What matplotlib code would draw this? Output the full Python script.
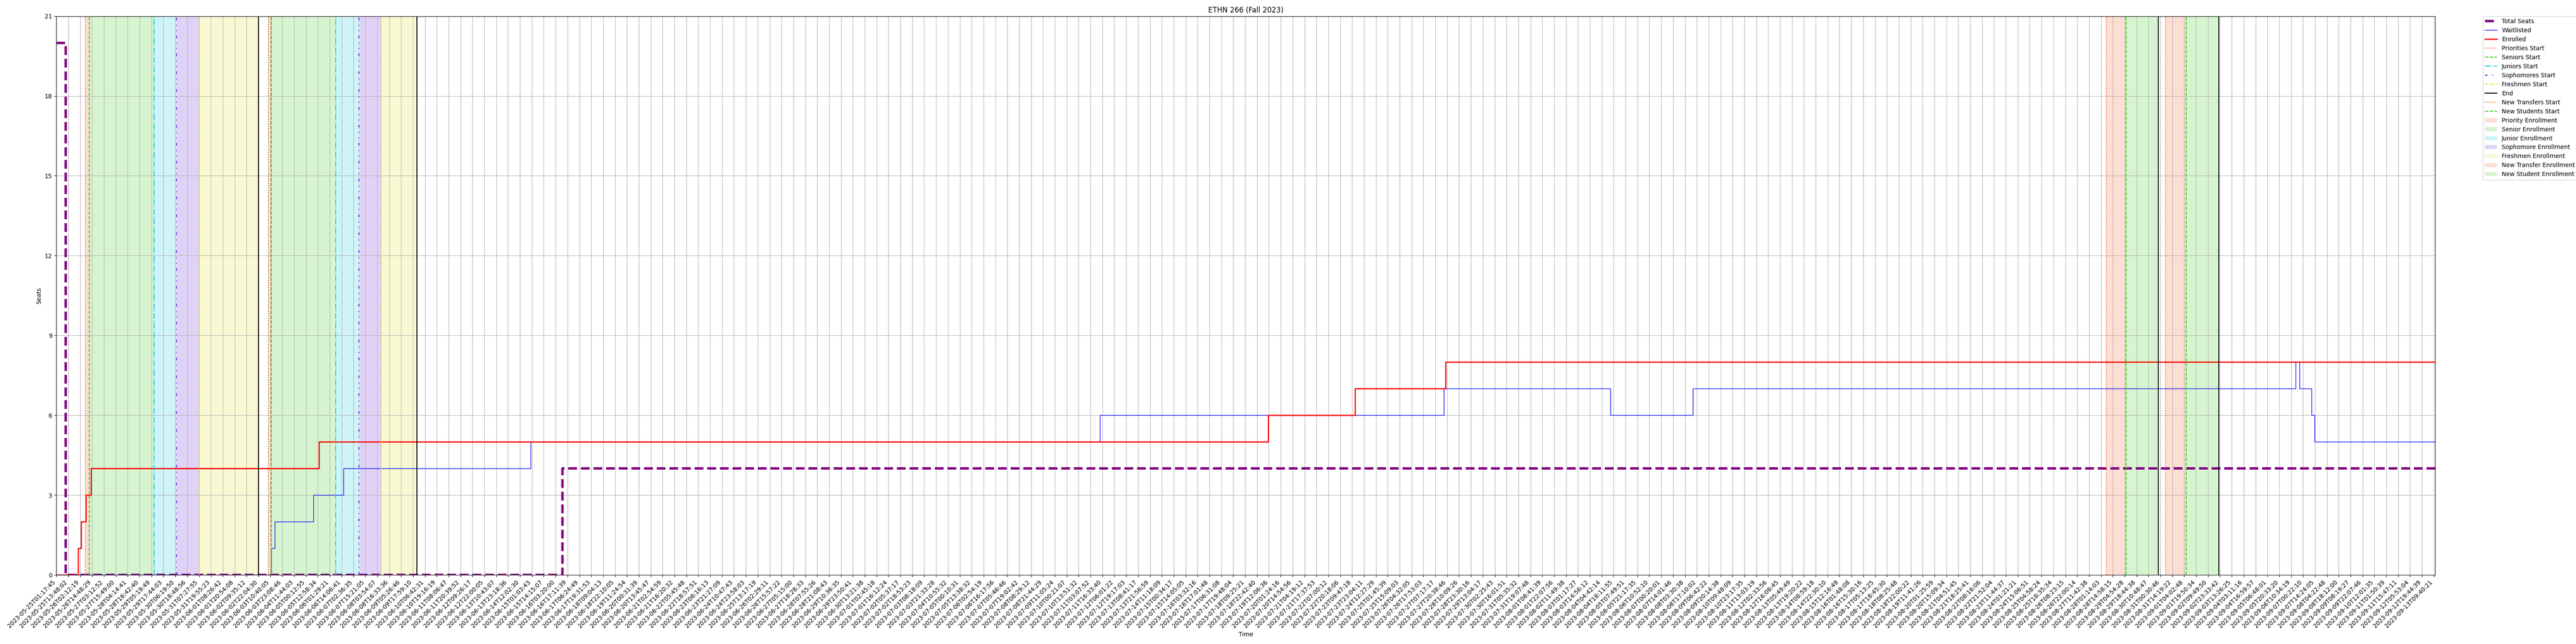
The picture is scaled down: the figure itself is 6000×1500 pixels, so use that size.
import matplotlib
matplotlib.use("Agg")
import matplotlib.pyplot as plt

# ---------------- data ----------------
tick_labels = [
    "2023-05-25T01:17:45", "2023-05-25T13:48:02", "2023-05-26T02:12:19", "2023-05-26T14:48:29",
    "2023-05-27T03:12:52", "2023-05-27T15:49:00", "2023-05-28T04:14:41", "2023-05-28T16:42:40",
    "2023-05-29T05:19:49", "2023-05-29T17:44:03", "2023-05-30T06:19:50", "2023-05-30T18:48:56",
    "2023-05-31T07:27:55", "2023-05-31T19:55:23", "2023-06-01T08:26:42", "2023-06-01T20:54:08",
    "2023-06-02T09:35:12", "2023-06-02T22:04:30", "2023-06-03T10:40:05", "2023-06-03T23:08:46",
    "2023-06-04T11:44:03", "2023-06-05T00:12:55", "2023-06-05T12:58:34", "2023-06-06T01:29:21",
    "2023-06-06T14:06:41", "2023-06-07T02:36:35", "2023-06-07T15:21:05", "2023-06-08T03:54:07",
    "2023-06-08T16:33:36", "2023-06-09T05:26:46", "2023-06-09T17:59:10", "2023-06-10T06:42:31",
    "2023-06-10T19:16:19", "2023-06-11T08:06:47", "2023-06-11T20:39:52", "2023-06-12T09:26:17",
    "2023-06-12T22:00:05", "2023-06-13T10:43:07", "2023-06-13T23:18:36", "2023-06-14T12:02:30",
    "2023-06-15T01:03:43", "2023-06-15T14:15:07", "2023-06-16T03:20:00", "2023-06-16T17:11:39",
    "2023-06-17T06:24:49", "2023-06-17T19:31:53", "2023-06-18T09:04:13", "2023-06-18T22:10:05",
    "2023-06-19T11:24:54", "2023-06-20T00:31:39", "2023-06-20T13:45:47", "2023-06-21T02:54:59",
    "2023-06-21T16:20:32", "2023-06-22T05:45:48", "2023-06-22T18:57:51", "2023-06-23T08:16:13",
    "2023-06-23T21:27:09", "2023-06-24T10:47:43", "2023-06-24T23:58:03", "2023-06-25T13:17:19",
    "2023-06-26T02:29:11", "2023-06-26T15:57:22", "2023-06-27T05:15:00", "2023-06-27T18:28:33",
    "2023-06-28T07:55:26", "2023-06-28T21:08:43", "2023-06-29T10:36:35", "2023-06-29T23:50:41",
    "2023-06-30T13:21:38", "2023-07-01T02:45:18", "2023-07-01T16:12:24", "2023-07-02T05:37:17",
    "2023-07-02T18:53:23", "2023-07-03T08:18:09", "2023-07-03T21:33:28", "2023-07-04T10:55:32",
    "2023-07-05T00:10:31", "2023-07-05T13:38:32", "2023-07-06T02:54:19", "2023-07-06T16:17:56",
    "2023-07-07T05:46:46", "2023-07-07T19:02:42", "2023-07-08T08:29:12", "2023-07-08T21:44:29",
    "2023-07-09T11:05:24", "2023-07-10T00:21:07", "2023-07-10T13:51:32", "2023-07-11T03:07:52",
    "2023-07-11T16:33:40", "2023-07-12T06:01:22", "2023-07-12T19:17:03", "2023-07-13T08:41:17",
    "2023-07-13T21:56:59", "2023-07-14T11:18:09", "2023-07-15T00:34:17", "2023-07-15T14:05:05",
    "2023-07-16T03:32:16", "2023-07-16T17:01:48", "2023-07-17T06:31:08", "2023-07-17T19:48:04",
    "2023-07-18T09:25:21", "2023-07-18T22:42:40", "2023-07-19T12:06:36", "2023-07-20T01:24:16",
    "2023-07-20T14:54:56", "2023-07-21T04:19:12", "2023-07-21T17:37:53", "2023-07-22T07:00:12",
    "2023-07-22T20:18:06", "2023-07-23T09:47:18", "2023-07-23T23:04:11", "2023-07-24T12:27:29",
    "2023-07-25T01:45:39", "2023-07-25T15:09:03", "2023-07-26T04:32:05", "2023-07-26T17:53:03",
    "2023-07-27T07:17:17", "2023-07-27T20:38:46", "2023-07-28T10:09:26", "2023-07-28T23:30:16",
    "2023-07-29T13:04:17", "2023-07-30T02:25:43", "2023-07-30T16:01:51", "2023-07-31T05:35:32",
    "2023-07-31T19:07:48", "2023-08-01T08:41:39", "2023-08-01T22:07:56", "2023-08-02T11:49:38",
    "2023-08-03T01:17:27", "2023-08-03T14:56:12", "2023-08-04T04:42:14", "2023-08-04T18:11:55",
    "2023-08-05T07:49:51", "2023-08-05T21:17:35", "2023-08-06T10:52:10", "2023-08-07T00:20:01",
    "2023-08-07T14:01:46", "2023-08-08T03:30:38", "2023-08-08T17:10:02", "2023-08-09T06:42:22",
    "2023-08-09T20:14:38", "2023-08-10T09:48:09", "2023-08-10T23:17:35", "2023-08-11T13:03:19",
    "2023-08-12T02:33:56", "2023-08-12T16:08:45", "2023-08-13T05:49:49", "2023-08-13T19:20:22",
    "2023-08-14T08:59:18", "2023-08-14T22:30:10", "2023-08-15T12:16:49", "2023-08-16T01:48:08",
    "2023-08-16T15:30:16", "2023-08-17T05:13:25", "2023-08-17T18:45:30", "2023-08-18T08:25:48",
    "2023-08-18T22:00:22", "2023-08-19T11:41:26", "2023-08-20T01:25:59", "2023-08-20T15:09:34",
    "2023-08-21T04:51:45", "2023-08-21T18:25:41", "2023-08-22T08:16:06", "2023-08-22T21:52:04",
    "2023-08-23T11:44:37", "2023-08-24T01:21:21", "2023-08-24T15:06:51", "2023-08-25T04:58:24",
    "2023-08-25T18:35:34", "2023-08-26T08:23:15", "2023-08-26T22:00:14", "2023-08-27T11:42:38",
    "2023-08-28T01:14:03", "2023-08-28T14:58:15", "2023-08-29T04:54:28", "2023-08-29T18:44:38",
    "2023-08-30T10:48:47", "2023-08-31T00:30:46", "2023-08-31T14:19:22", "2023-09-01T04:02:48",
    "2023-09-01T19:50:34", "2023-09-02T09:49:50", "2023-09-02T23:33:42", "2023-09-03T13:26:25",
    "2023-09-04T03:11:16", "2023-09-04T16:59:57", "2023-09-05T06:48:01", "2023-09-05T20:33:20",
    "2023-09-06T10:34:19", "2023-09-07T00:22:10", "2023-09-07T14:24:05", "2023-09-08T04:22:48",
    "2023-09-08T18:12:00", "2023-09-09T08:19:27", "2023-09-09T22:07:46", "2023-09-10T12:01:35",
    "2023-09-11T01:50:39", "2023-09-11T15:47:11", "2023-09-12T05:53:04", "2023-09-12T19:44:39",
    "2023-09-13T09:40:21",
]

# series as change points (x in sample-tick units), drawn as post steps
seats_x = [0, 0.79, 42.59, 200.11]
seats_y = [20, 0, 4, 4]

waitlist_x = [0, 18.08, 18.36, 21.63, 24.14, 39.89, 87.80, 116.71, 130.75, 137.65,
              188.37, 188.70, 189.71, 189.97, 200.11]
waitlist_y = [0, 1, 2, 3, 4, 5, 6, 7, 6, 7, 8, 7, 6, 5, 5]

enrolled_x = [0, 1.82, 2.08, 2.47, 2.92, 22.11, 101.94, 109.25, 116.88, 200.11]
enrolled_y = [0, 1, 2, 3, 4, 5, 6, 7, 8, 8]

# enrollment period markers
priorities_start = [2.45, 17.83]
seniors_start = [2.76, 18.08]
juniors_start = [8.21, 23.52]
sophomores_start = [10.12, 25.45]
freshmen_start = [12.03, 27.34]
class_end = [16.99, 30.33]
new_transfers_start = [172.44, 177.42]
new_students_start = [174.11, 179.17]
new_end = [176.82, 181.90]

title = "ETHN 266 (Fall 2023)"

# ---------------- style ----------------
c_prio = "#f05a1e"
c_sen = "#33cc11"
c_jun = "#10c8d8"
c_soph = "#6420d8"
c_fresh = "#dede22"

fig = plt.figure(figsize=(60, 15), dpi=100)
ax = fig.add_axes([0.021875, 0.10733, 0.94532 - 0.021875, 0.97487 - 0.10733])

ax.plot(seats_x, seats_y, drawstyle="steps-post", color="purple", lw=4,
        linestyle="--", label="Total Seats")
ax.plot(waitlist_x, waitlist_y, drawstyle="steps-post", color="blue", lw=1,
        label="Waitlisted")
ax.plot(enrolled_x, enrolled_y, drawstyle="steps-post", color="red", lw=2,
        label="Enrolled")

vstyles = [
    (priorities_start, c_prio, ":", "Priorities Start"),
    (seniors_start, c_sen, "--", "Seniors Start"),
    (juniors_start, c_jun, "-.", "Juniors Start"),
    (sophomores_start, c_soph, (0, (3, 5, 1, 5, 1, 5)), "Sophomores Start"),
    (freshmen_start, c_fresh, (0, (3, 1, 1, 1)), "Freshmen Start"),
    (class_end + new_end, "black", "-", "End"),
    (new_transfers_start, c_prio, ":", "New Transfers Start"),
    (new_students_start, c_sen, "--", "New Students Start"),
]
for xs, col, ls, lab in vstyles:
    for i, xv in enumerate(xs):
        ax.axvline(xv, color=col, linestyle=ls, lw=1.5,
                   label=lab if i == 0 else "_nolegend_")

spans = [
    (priorities_start, seniors_start, c_prio, "Priority Enrollment"),
    (seniors_start, juniors_start, c_sen, "Senior Enrollment"),
    (juniors_start, sophomores_start, c_jun, "Junior Enrollment"),
    (sophomores_start, freshmen_start, c_soph, "Sophomore Enrollment"),
    (freshmen_start, class_end, c_fresh, "Freshmen Enrollment"),
    (new_transfers_start, new_students_start, c_prio, "New Transfer Enrollment"),
    (new_students_start, new_end, c_sen, "New Student Enrollment"),
]
for starts, ends, col, lab in spans:
    for i, (a, b) in enumerate(zip(starts, ends)):
        ax.axvspan(a, b, color=col, alpha=0.2, lw=0,
                   label=lab if i == 0 else "_nolegend_")

ax.set_xlim(0, seats_x[-1])
ax.set_ylim(0, 21)
ax.set_yticks(range(0, 22, 3))
ax.set_xticks(range(len(tick_labels)))
ax.set_xticklabels(tick_labels, rotation=45, ha="right")
ax.grid(True)
ax.set_title(title)
ax.set_xlabel("Time")
ax.set_ylabel("Seats")
ax.legend(bbox_to_anchor=(1.02, 1), loc="upper left", borderaxespad=0.)

fig.savefig("out.png", dpi=100)
